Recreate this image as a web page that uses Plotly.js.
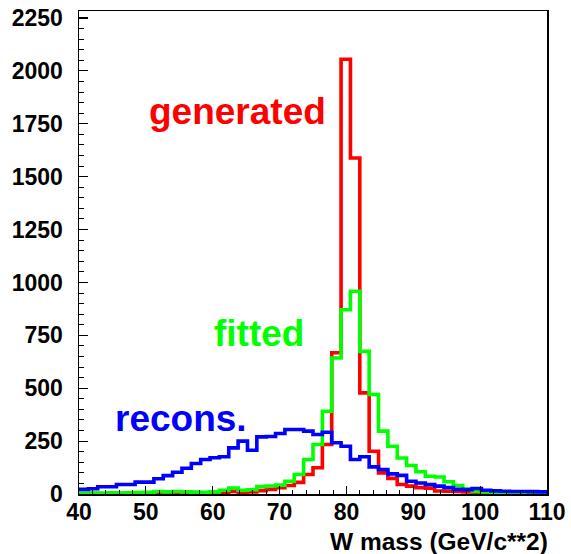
<!DOCTYPE html>
<html>
<head>
<meta charset="utf-8">
<script src="https://cdn.plot.ly/plotly-3.0.1.min.js"></script>
<style>html,body{margin:0;padding:0;background:#fff;}#chart{width:571px;height:554px;}</style>
</head>
<body>
<div id="chart"></div>
<script>
// Histogram binning: 50 bins from 40 to 110 GeV/c**2
var binLow = 40, binHigh = 110, nBins = 50;

// Bin contents
var generated = [0, 2, 1, 4, 2, 1, 2, 1, 2, 2,
                 3, 2, 3, 2, 3, 4, 12, 5, 10, 16,
                 22, 30, 40, 55, 92, 124, 234, 668, 2055, 1588,
                 478, 202, 100, 74, 45, 37, 30, 28, 14, 13,
                 12, 10, 0, 0, 0, 0, 0, 0, 0, 0];
var fitted = [4, 5, 4, 6, 5, 6, 7, 8, 12, 10,
              12, 10, 9, 8, 10, 18, 28, 18, 20, 35,
              38, 42, 60, 92, 163, 234, 391, 643, 871, 958,
              674, 470, 297, 226, 170, 135, 105, 84, 80, 58,
              40, 25, 12, 10, 9, 8, 8, 7, 6, 6];
var recons = [22, 25, 34, 34, 45, 45, 56, 56, 72, 87,
              103, 122, 144, 163, 171, 176, 218, 250, 207, 270,
              272, 286, 305, 305, 297, 281, 292, 242, 226, 163,
              176, 128, 116, 95, 88, 60, 52, 45, 37, 30,
              22, 20, 26, 18, 15, 13, 12, 12, 11, 10];

var xTickVals = [40, 50, 60, 70, 80, 90, 100, 110];
var yTickVals = [0, 250, 500, 750, 1000, 1250, 1500, 1750, 2000, 2250];
var xTitle = 'W mass (GeV/c**2)';
var labels = ['generated', 'fitted', 'recons.'];

var edges = [];
for (var i = 0; i <= nBins; i++) edges.push(binLow + (binHigh - binLow) * i / nBins);

function stepTrace(vals, color) {
  return {
    type: 'scatter', mode: 'lines',
    x: edges.slice(),
    y: vals.concat([vals[vals.length - 1]]),
    line: {shape: 'hv', color: color, width: 3.6},
    hoverinfo: 'skip', showlegend: false, cliponaxis: true
  };
}

var data = [
  stepTrace(generated, '#ff0000'),
  stepTrace(fitted, '#00ff00'),
  stepTrace(recons, '#0000ff')
];

var fontFam = '"Liberation Sans", Arial, Helvetica, sans-serif';

var layout = {
  width: 571, height: 554,
  margin: {l: 79, r: 24, t: 11, b: 60, pad: 0},
  paper_bgcolor: '#ffffff', plot_bgcolor: '#ffffff',
  font: {family: fontFam, size: 23, color: '#000', weight: 'bold'},
  showlegend: false,
  xaxis: {
    range: [binLow, binHigh], showgrid: false, zeroline: false,
    showline: true, mirror: true, linecolor: '#000', linewidth: 1.5,
    ticks: 'inside', ticklen: 8, tickwidth: 1.2, tickcolor: '#000',
    tickvals: xTickVals, ticktext: xTickVals.map(String),
    tickfont: {family: fontFam, size: 23, color: '#000', weight: 'bold'},
    ticklabelstandoff: -3,
    minor: {dtick: 2, tick0: 40, ticks: 'inside', ticklen: 4, tickwidth: 1, tickcolor: '#000', showgrid: false}
  },
  yaxis: {
    range: [0, 2283], showgrid: false, zeroline: false,
    showline: true, mirror: true, linecolor: '#000', linewidth: 1.5,
    ticks: 'inside', ticklen: 9, tickwidth: 1.2, tickcolor: '#000',
    tickvals: yTickVals, ticktext: yTickVals.map(String),
    tickfont: {family: fontFam, size: 23, color: '#000', weight: 'bold'},
    ticklabelstandoff: 10,
    minor: {dtick: 50, tick0: 0, ticks: 'inside', ticklen: 4.5, tickwidth: 1, tickcolor: '#000', showgrid: false}
  },
  annotations: [
    {text: labels[0], xref: 'x', yref: 'y', x: 50.2, y: 1806, xanchor: 'left', yanchor: 'middle', showarrow: false,
     font: {family: fontFam, size: 37, color: '#ff0000', weight: 'bold'}},
    {text: labels[1], xref: 'x', yref: 'y', x: 59.9, y: 758, xanchor: 'left', yanchor: 'middle', showarrow: false,
     font: {family: fontFam, size: 37, color: '#00ff00', weight: 'bold'}},
    {text: labels[2], xref: 'x', yref: 'y', x: 45.1, y: 357, xanchor: 'left', yanchor: 'middle', showarrow: false,
     font: {family: fontFam, size: 37, color: '#0000ff', weight: 'bold'}},
    {text: xTitle, xref: 'paper', yref: 'paper', x: 1, y: -0.099, xanchor: 'right', yanchor: 'middle', showarrow: false,
     xshift: 3, font: {family: fontFam, size: 24.5, color: '#000', weight: 'bold'}}
  ]
};

Plotly.newPlot('chart', data, layout, {staticPlot: true, displayModeBar: false});
</script>
</body>
</html>
